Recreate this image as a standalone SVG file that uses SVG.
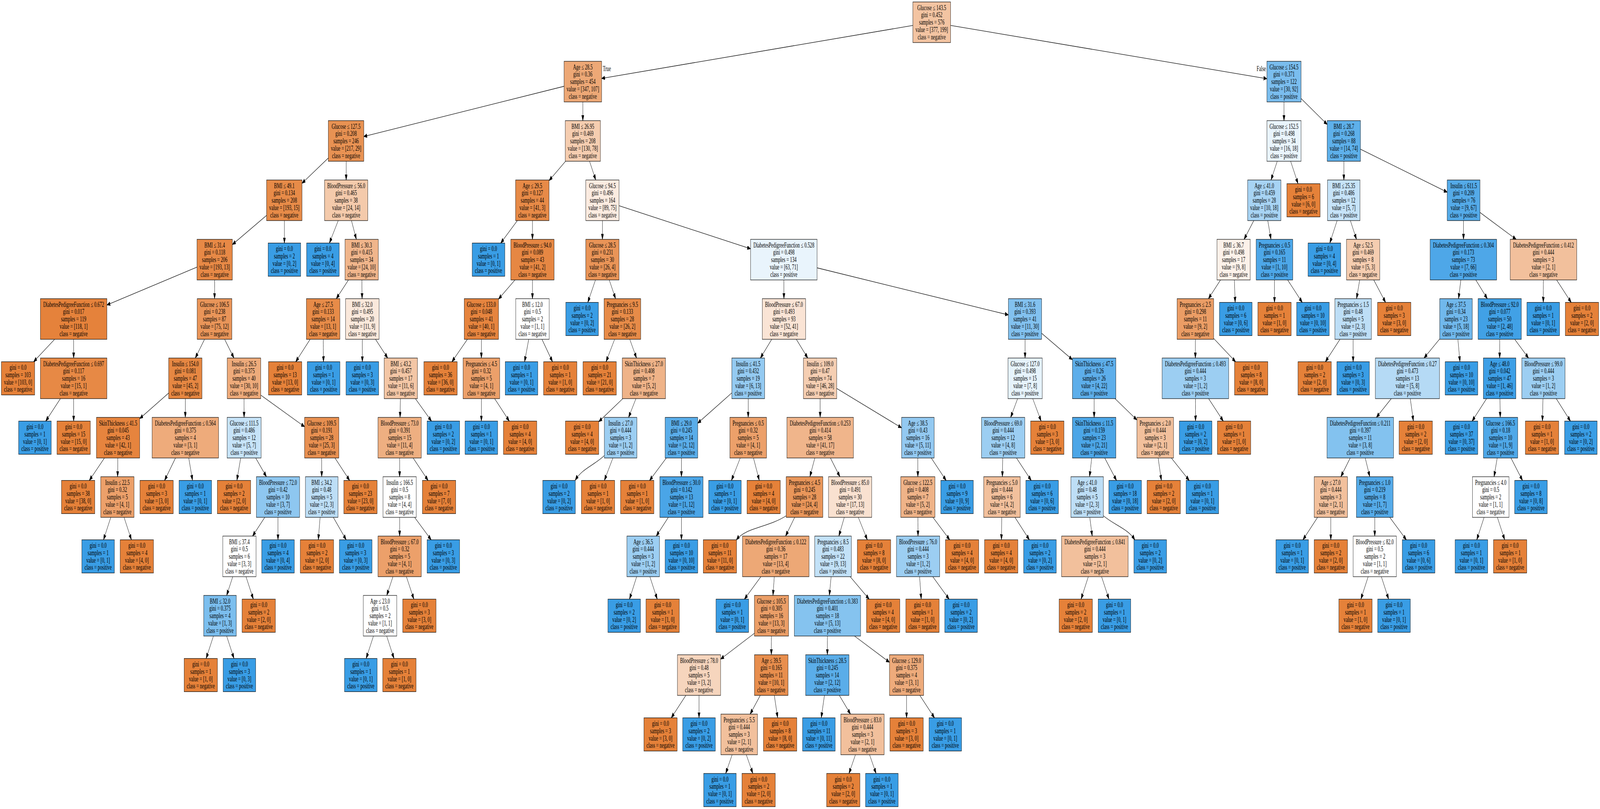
<svg xmlns="http://www.w3.org/2000/svg" width="6734" height="2072" viewBox="0 0 6734 2072" preserveAspectRatio="none">
<style>
svg{width:100vw;height:100vh;display:block}
text{font-family:"Liberation Serif","Times New Roman",serif;font-size:18.5px;text-anchor:middle;fill:#000}
rect{stroke:#000;stroke-width:1.2}
rect.bg{fill:#fff;stroke:none}
.neg{fill:#e58139}.pos{fill:#399de5}
.e path{fill:none;stroke:#000;stroke-width:1.3;marker-end:url(#ah)}
.e text.t{text-anchor:start}.e text.f{text-anchor:end}
</style>
<defs><marker id="ah" markerUnits="userSpaceOnUse" markerWidth="15" markerHeight="11" refX="14" refY="5" orient="auto"><path d="M0,0 L14,5 L0,10 z" fill="#000" stroke="#000" stroke-width="1"/></marker></defs>
<rect class="bg" x="0" y="0" width="6734" height="2072"/>
<g id="connectors" class="e">
<path d="M3842,65.2 L2532,200.8"/><path d="M4001,65.2 L5332,201.6"/>
<text class="t" x="2537" y="182">True</text><text class="f" x="5328" y="182">False</text>
<path d="M2374,221 L1531,349.6"/><path d="M2453,261 L2453,309"/><path d="M5404,261 L5404,309"/><path d="M5476,252.4 L5586,318.8"/>
<path d="M1382,404.6 L1271,469.5"/><path d="M1457,413 L1457,461"/><path d="M2380.3,413 L2311,462.5"/><path d="M2481.2,413 L2507.3,461"/><path d="M5375.6,413 L5349.4,461"/><path d="M5432,413 L5463.1,470.5"/><path d="M5656,413 L5656,461"/><path d="M5726,382.1 L6091,492.2"/>
<path d="M1122,551.7 L978,626.4"/><path d="M1197,565 L1197,622.5"/><path d="M1423.5,565 L1386.4,622.5"/><path d="M1479.2,565 L1499.8,613"/><path d="M2177.4,565 L2107.6,622.5"/><path d="M2241,565 L2241,613"/><path d="M2535.5,565 L2535.5,613"/><path d="M2605.5,526.9 L3159,637.1"/><path d="M5276.9,565 L5236.1,613"/><path d="M5335.7,565 L5349.3,613"/><path d="M5627.6,565 L5596.8,622.5"/><path d="M5683.4,565 L5709.1,613"/><path d="M6159.5,565 L6159.5,613"/><path d="M6229,544.2 L6381.1,613"/>
<path d="M829,684.1 L450,781.1"/><path d="M903.3,717 L903.1,765"/><path d="M1466.6,717 L1415.4,765"/><path d="M1523,717 L1524,765"/><path d="M2167.4,717 L2098,766.1"/><path d="M2241,717 L2241,765"/><path d="M2506.2,717 L2473.9,774.5"/><path d="M2564.2,717 L2590.8,765"/><path d="M3299.2,717 L3299.3,765"/><path d="M3439,686 L4244,806.5"/><path d="M5136.9,717 L5086.1,765"/><path d="M5195.1,717 L5198.5,774.5"/><path d="M5364,717 L5364,774.5"/><path d="M5419.4,717 L5480.7,774.5"/><path d="M5722.6,717 L5709.4,765"/><path d="M5781.8,717 L5831.4,774.5"/><path d="M6148.4,717 L6138.6,765"/><path d="M6211.3,717 L6259.7,765"/><path d="M6495.7,717 L6495.3,774.5"/><path d="M6551.4,717 L6612.7,774.5"/>
<path d="M230,869 L141.4,926.5"/><path d="M310,869 L310,917"/><path d="M860.9,869 L822.1,917"/><path d="M945.4,869 L984.6,917"/><path d="M1305.3,869 L1244.7,926.5"/><path d="M1360.7,869 L1361.4,926.5"/><path d="M1525,869 L1525,926.5"/><path d="M1580.4,869 L1631.6,917"/><path d="M1967.2,869 L1902.1,926.5"/><path d="M2026,869 L2026,917"/><path d="M2225.3,869 L2207.9,926.5"/><path d="M2281,869 L2325.3,926.5"/><path d="M2586.8,869 L2550.7,926.5"/><path d="M2650.5,869 L2679,917"/><path d="M3248,869 L3200.5,917"/><path d="M3351.5,869 L3399.5,917"/><path d="M4314.2,869 L4314.3,917"/><path d="M4384,853.6 L4513.5,921.2"/><path d="M5031,869 L5031,917"/><path d="M5108,866.8 L5200.3,926.5"/><path d="M5639.6,869 L5578.3,926.5"/><path d="M5695,869 L5695,926.5"/><path d="M6059.5,867.9 L5993.5,917"/><path d="M6135.9,869 L6144.6,926.5"/><path d="M6311.8,869 L6311.7,917"/><path d="M6375,869 L6433.1,917"/>
<path d="M254.2,1021 L192.6,1078.5"/><path d="M310,1021 L310,1078.5"/><path d="M710,1006.6 L588,1072.1"/><path d="M780,1021 L780,1069"/><path d="M1027.2,1021 L1027.3,1069"/><path d="M1097.6,1012 L1282,1093"/><path d="M1685.3,1021 L1683.7,1069"/><path d="M1748.2,1021 L1815.9,1078.5"/><path d="M2026,1021 L2026,1078.5"/><path d="M2081.8,1021 L2143.4,1078.5"/><path d="M2621.1,1021 L2520,1080.1"/><path d="M2676.5,1021 L2645.5,1069"/><path d="M3080,1006.3 L2936.5,1083.9"/><path d="M3149,1021 L3149,1069"/><path d="M3451.7,1021 L3451.8,1069"/><path d="M3521.5,994.9 L3794.5,1095.7"/><path d="M4282.9,1021 L4253.6,1069"/><path d="M4346.5,1021 L4381.9,1078.5"/><path d="M4605,1021 L4605,1069"/><path d="M4692.9,1021 L4785,1075.5"/><path d="M5031.3,1021 L5031.7,1078.5"/><path d="M5086.8,1021 L5148.4,1078.5"/><path d="M5855.6,1021 L5792.9,1069"/><path d="M5935.5,1021 L5948.7,1078.5"/><path d="M6256.6,1021 L6195.9,1078.5"/><path d="M6312.9,1021 L6314.1,1069"/><path d="M6494,1021 L6491.7,1078.5"/><path d="M6549.9,1021 L6609.5,1078.5"/>
<path d="M439.5,1173 L376,1230.5"/><path d="M496,1173 L495,1221"/><path d="M738.6,1173 L692.8,1230.5"/><path d="M794.4,1173 L810.3,1230.5"/><path d="M1013,1173 L996.9,1230.5"/><path d="M1076.2,1173 L1121.3,1221"/><path d="M1354,1173 L1354,1221"/><path d="M1409.8,1173 L1471.4,1230.5"/><path d="M1682,1173 L1682,1221"/><path d="M1738.8,1173 L1801.6,1230.5"/><path d="M2543,1167 C2500,1192 2450,1200 2421,1230"/><path d="M2579.5,1173 L2543.6,1230.5"/><path d="M2804.4,1173 L2734,1230.5"/><path d="M2868,1173 L2868,1221"/><path d="M3115.5,1173 L3078.4,1230.5"/><path d="M3171.2,1173 L3195.8,1230.5"/><path d="M3429.4,1173 L3408.6,1221"/><path d="M3495.1,1173 L3534.9,1221"/><path d="M3863,1173 L3863,1221"/><path d="M3919.4,1173 L3981.9,1230.5"/><path d="M4220.3,1173 L4218.7,1221"/><path d="M4278.1,1173 L4340.1,1230.5"/><path d="M4594.9,1173 L4585.6,1221"/><path d="M4649.6,1173 L4699,1230.5"/><path d="M4874.3,1173 L4887.9,1230.5"/><path d="M4929.9,1173 L5005,1230.5"/><path d="M5682.6,1173 L5643.4,1221"/><path d="M5745.9,1173 L5765.1,1221"/><path d="M6301.3,1173 L6288.2,1221"/><path d="M6359.3,1173 L6407.7,1230.5"/>
<path d="M466.3,1325 L435.6,1382.5"/><path d="M522.1,1325 L553.1,1382.5"/><path d="M1114.4,1325 L1063.1,1373"/><path d="M1170,1325 L1170,1382.5"/><path d="M1347.2,1325 L1339.6,1382.5"/><path d="M1402.9,1325 L1457,1382.5"/><path d="M1682,1325 L1682,1373"/><path d="M1744.9,1325 L1814.6,1382.5"/><path d="M2812.9,1325 L2762.1,1373"/><path d="M2868,1325 L2868,1382.5"/><path d="M3309,1321 C3230,1352 3140,1350 3099,1383"/><path d="M3344.6,1325 L3306.4,1373"/><path d="M3553.4,1325 L3530.6,1373"/><path d="M3612.4,1325 L3650.4,1382.5"/><path d="M3863.3,1325 L3863.7,1373"/><path d="M3926.6,1325 L3997,1382.5"/><path d="M4216,1325 L4214.8,1382.5"/><path d="M4271.7,1325 L4332.3,1382.5"/><path d="M4586.6,1325 L4596.9,1373"/><path d="M4644,1321 C4690,1345 4750,1355 4776,1383"/><path d="M5545.4,1325 L5483.9,1382.5"/><path d="M5601,1325 L5601,1382.5"/><path d="M5786,1325 L5786,1373"/><path d="M5849.1,1325 L5918.9,1382.5"/><path d="M6246.2,1325 L6215.4,1382.5"/><path d="M6302,1325 L6332.9,1382.5"/>
<path d="M979.6,1477 L953.9,1525"/><path d="M1035.4,1477 L1066.2,1534.5"/><path d="M1653.8,1477 L1627.7,1525"/><path d="M1710.4,1477 L1741.8,1534.5"/><path d="M2679.6,1477 L2649.4,1534.5"/><path d="M2735.1,1477 L2766.1,1534.5"/><path d="M3202.4,1477 L3133.2,1534.5"/><path d="M3258.8,1477 L3253.2,1525"/><path d="M3498,1477 L3490.5,1525"/><path d="M3578.2,1477 L3658,1534.5"/><path d="M3870.3,1477 L3877.3,1534.5"/><path d="M3925.9,1477 L3994.4,1534.5"/><path d="M4580.5,1477 L4550,1534.5"/><path d="M4636.2,1477 L4667.4,1534.5"/><path d="M5758.3,1477 L5727.6,1534.5"/><path d="M5813.7,1477 L5844.4,1534.5"/>
<path d="M898.3,1629 L867.6,1686.5"/><path d="M953.9,1629 L984.8,1686.5"/><path d="M1571.8,1629 L1541.1,1686.5"/><path d="M1627.4,1629 L1658.2,1686.5"/><path d="M3175,1622 L3033,1688"/><path d="M3246.7,1629 L3246.3,1677"/><path d="M3482.3,1629 L3482.2,1677"/><path d="M3596.4,1629 L3743.6,1696.2"/>
<path d="M2886.6,1781 L2825.3,1838.5"/><path d="M2942,1781 L2942,1838.5"/><path d="M3199.8,1781 L3157.2,1829"/><path d="M3258.8,1781 L3273,1838.5"/><path d="M3469.9,1781 L3456.4,1838.5"/><path d="M3532.6,1781 L3579.4,1829"/><path d="M3815.5,1781 L3815.5,1838.5"/><path d="M3871.3,1781 L3932.9,1838.5"/>
<path d="M3081.4,1933 L3054.2,1981"/><path d="M3140.9,1933 L3168.5,1981"/><path d="M3600.4,1933 L3573.2,1981"/><path d="M3659.7,1933 L3687.2,1981"/>
</g>
<g id="nodes">
<g id="n0" transform="translate(3921.5,57)"><rect x="-79.5" y="-52" width="159" height="104" fill="#f3c4a2"/><text y="-31.5"><tspan x="0">Glucose ≤ 143.5</tspan><tspan x="0" dy="18.8">gini = 0.452</tspan><tspan x="0" dy="18.8">samples = 576</tspan><tspan x="0" dy="18.8">value = [377, 199]</tspan><tspan x="0" dy="18.8">class = negative</tspan></text></g>
<g id="n1" transform="translate(2453,209)"><rect x="-79" y="-52" width="158" height="104" fill="#eda876"/><text y="-31.5"><tspan x="0">Age ≤ 28.5</tspan><tspan x="0" dy="18.8">gini = 0.36</tspan><tspan x="0" dy="18.8">samples = 454</tspan><tspan x="0" dy="18.8">value = [347, 107]</tspan><tspan x="0" dy="18.8">class = negative</tspan></text></g>
<g id="n2" transform="translate(5404,209)"><rect x="-72" y="-52" width="144" height="104" fill="#7abdee"/><text y="-31.5"><tspan x="0">Glucose ≤ 154.5</tspan><tspan x="0" dy="18.8">gini = 0.371</tspan><tspan x="0" dy="18.8">samples = 122</tspan><tspan x="0" dy="18.8">value = [30, 92]</tspan><tspan x="0" dy="18.8">class = positive</tspan></text></g>
<g id="n3" transform="translate(1456.5,361)"><rect x="-74.5" y="-52" width="149" height="104" fill="#e89253"/><text y="-31.5"><tspan x="0">Glucose ≤ 127.5</tspan><tspan x="0" dy="18.8">gini = 0.208</tspan><tspan x="0" dy="18.8">samples = 246</tspan><tspan x="0" dy="18.8">value = [217, 29]</tspan><tspan x="0" dy="18.8">class = negative</tspan></text></g>
<g id="n4" transform="translate(2453,361)"><rect x="-74" y="-52" width="148" height="104" fill="#f5cdb0"/><text y="-31.5"><tspan x="0">BMI ≤ 26.95</tspan><tspan x="0" dy="18.8">gini = 0.469</tspan><tspan x="0" dy="18.8">samples = 208</tspan><tspan x="0" dy="18.8">value = [130, 78]</tspan><tspan x="0" dy="18.8">class = negative</tspan></text></g>
<g id="n5" transform="translate(5404,361)"><rect x="-72" y="-52" width="144" height="104" fill="#e9f4fc"/><text y="-31.5"><tspan x="0">Glucose ≤ 152.5</tspan><tspan x="0" dy="18.8">gini = 0.498</tspan><tspan x="0" dy="18.8">samples = 34</tspan><tspan x="0" dy="18.8">value = [16, 18]</tspan><tspan x="0" dy="18.8">class = positive</tspan></text></g>
<g id="n6" transform="translate(5656,361)"><rect x="-70" y="-52" width="140" height="104" fill="#5eb0ea"/><text y="-31.5"><tspan x="0">BMI ≤ 28.7</tspan><tspan x="0" dy="18.8">gini = 0.268</tspan><tspan x="0" dy="18.8">samples = 88</tspan><tspan x="0" dy="18.8">value = [14, 74]</tspan><tspan x="0" dy="18.8">class = positive</tspan></text></g>
<g id="n7" transform="translate(1196.5,513)"><rect x="-74.5" y="-52" width="149" height="104" fill="#e78b48"/><text y="-31.5"><tspan x="0">BMI ≤ 49.1</tspan><tspan x="0" dy="18.8">gini = 0.134</tspan><tspan x="0" dy="18.8">samples = 208</tspan><tspan x="0" dy="18.8">value = [193, 15]</tspan><tspan x="0" dy="18.8">class = negative</tspan></text></g>
<g id="n8" transform="translate(1457,513)"><rect x="-91" y="-52" width="182" height="104" fill="#f4caab"/><text y="-31.5"><tspan x="0">BloodPressure ≤ 56.0</tspan><tspan x="0" dy="18.8">gini = 0.465</tspan><tspan x="0" dy="18.8">samples = 38</tspan><tspan x="0" dy="18.8">value = [24, 14]</tspan><tspan x="0" dy="18.8">class = negative</tspan></text></g>
<g id="n9" transform="translate(2240.5,513)"><rect x="-70.5" y="-52" width="141" height="104" fill="#e78a47"/><text y="-31.5"><tspan x="0">Age ≤ 29.5</tspan><tspan x="0" dy="18.8">gini = 0.127</tspan><tspan x="0" dy="18.8">samples = 44</tspan><tspan x="0" dy="18.8">value = [41, 3]</tspan><tspan x="0" dy="18.8">class = negative</tspan></text></g>
<g id="n10" transform="translate(2535.5,513)"><rect x="-70" y="-52" width="140" height="104" fill="#fbebe0"/><text y="-31.5"><tspan x="0">Glucose ≤ 94.5</tspan><tspan x="0" dy="18.8">gini = 0.496</tspan><tspan x="0" dy="18.8">samples = 164</tspan><tspan x="0" dy="18.8">value = [89, 75]</tspan><tspan x="0" dy="18.8">class = negative</tspan></text></g>
<g id="n11" transform="translate(5321,513)"><rect x="-70" y="-52" width="140" height="104" fill="#a7d3f3"/><text y="-31.5"><tspan x="0">Age ≤ 41.0</tspan><tspan x="0" dy="18.8">gini = 0.459</tspan><tspan x="0" dy="18.8">samples = 28</tspan><tspan x="0" dy="18.8">value = [10, 18]</tspan><tspan x="0" dy="18.8">class = positive</tspan></text></g>
<g id="n12" transform="translate(5486,513)"><rect class="neg" x="-70" y="-42.5" width="140" height="85"/><text y="-22"><tspan x="0">gini = 0.0</tspan><tspan x="0" dy="18.8">samples = 6</tspan><tspan x="0" dy="18.8">value = [6, 0]</tspan><tspan x="0" dy="18.8">class = negative</tspan></text></g>
<g id="n13" transform="translate(5655.5,513)"><rect x="-68.5" y="-52" width="137" height="104" fill="#c6e3f8"/><text y="-31.5"><tspan x="0">BMI ≤ 25.35</tspan><tspan x="0" dy="18.8">gini = 0.486</tspan><tspan x="0" dy="18.8">samples = 12</tspan><tspan x="0" dy="18.8">value = [5, 7]</tspan><tspan x="0" dy="18.8">class = positive</tspan></text></g>
<g id="n14" transform="translate(6160,513)"><rect x="-69" y="-52" width="138" height="104" fill="#54aae8"/><text y="-31.5"><tspan x="0">Insulin ≤ 611.5</tspan><tspan x="0" dy="18.8">gini = 0.209</tspan><tspan x="0" dy="18.8">samples = 76</tspan><tspan x="0" dy="18.8">value = [9, 67]</tspan><tspan x="0" dy="18.8">class = positive</tspan></text></g>
<g id="n15" transform="translate(903.5,665)"><rect x="-74.5" y="-52" width="149" height="104" fill="#e78946"/><text y="-31.5"><tspan x="0">BMI ≤ 31.4</tspan><tspan x="0" dy="18.8">gini = 0.118</tspan><tspan x="0" dy="18.8">samples = 206</tspan><tspan x="0" dy="18.8">value = [193, 13]</tspan><tspan x="0" dy="18.8">class = negative</tspan></text></g>
<g id="n16" transform="translate(1197,665)"><rect class="pos" x="-68.5" y="-42.5" width="137" height="85"/><text y="-22"><tspan x="0">gini = 0.0</tspan><tspan x="0" dy="18.8">samples = 2</tspan><tspan x="0" dy="18.8">value = [0, 2]</tspan><tspan x="0" dy="18.8">class = positive</tspan></text></g>
<g id="n17" transform="translate(1359,665)"><rect class="pos" x="-68.5" y="-42.5" width="137" height="85"/><text y="-22"><tspan x="0">gini = 0.0</tspan><tspan x="0" dy="18.8">samples = 4</tspan><tspan x="0" dy="18.8">value = [0, 4]</tspan><tspan x="0" dy="18.8">class = positive</tspan></text></g>
<g id="n18" transform="translate(1522,665)"><rect x="-70" y="-52" width="140" height="104" fill="#f0b58b"/><text y="-31.5"><tspan x="0">BMI ≤ 30.3</tspan><tspan x="0" dy="18.8">gini = 0.415</tspan><tspan x="0" dy="18.8">samples = 34</tspan><tspan x="0" dy="18.8">value = [24, 10]</tspan><tspan x="0" dy="18.8">class = negative</tspan></text></g>
<g id="n19" transform="translate(2056,665)"><rect class="pos" x="-68.5" y="-42.5" width="137" height="85"/><text y="-22"><tspan x="0">gini = 0.0</tspan><tspan x="0" dy="18.8">samples = 1</tspan><tspan x="0" dy="18.8">value = [0, 1]</tspan><tspan x="0" dy="18.8">class = positive</tspan></text></g>
<g id="n20" transform="translate(2241,665)"><rect x="-91" y="-52" width="182" height="104" fill="#e68743"/><text y="-31.5"><tspan x="0">BloodPressure ≤ 94.0</tspan><tspan x="0" dy="18.8">gini = 0.089</tspan><tspan x="0" dy="18.8">samples = 43</tspan><tspan x="0" dy="18.8">value = [41, 2]</tspan><tspan x="0" dy="18.8">class = negative</tspan></text></g>
<g id="n21" transform="translate(2535.5,665)"><rect x="-70" y="-52" width="140" height="104" fill="#e99457"/><text y="-31.5"><tspan x="0">Glucose ≤ 28.5</tspan><tspan x="0" dy="18.8">gini = 0.231</tspan><tspan x="0" dy="18.8">samples = 30</tspan><tspan x="0" dy="18.8">value = [26, 4]</tspan><tspan x="0" dy="18.8">class = negative</tspan></text></g>
<g id="n22" transform="translate(3299,665)"><rect x="-140" y="-52" width="280" height="104" fill="#e9f4fc"/><text y="-31.5"><tspan x="0">DiabetesPedigreeFunction ≤ 0.528</tspan><tspan x="0" dy="18.8">gini = 0.498</tspan><tspan x="0" dy="18.8">samples = 134</tspan><tspan x="0" dy="18.8">value = [63, 71]</tspan><tspan x="0" dy="18.8">class = positive</tspan></text></g>
<g id="n23" transform="translate(5192,665)"><rect x="-70" y="-52" width="140" height="104" fill="#fcf1e9"/><text y="-31.5"><tspan x="0">BMI ≤ 36.7</tspan><tspan x="0" dy="18.8">gini = 0.498</tspan><tspan x="0" dy="18.8">samples = 17</tspan><tspan x="0" dy="18.8">value = [9, 8]</tspan><tspan x="0" dy="18.8">class = negative</tspan></text></g>
<g id="n24" transform="translate(5364,665)"><rect x="-77" y="-52" width="154" height="104" fill="#4da7e8"/><text y="-31.5"><tspan x="0">Pregnancies ≤ 0.5</tspan><tspan x="0" dy="18.8">gini = 0.165</tspan><tspan x="0" dy="18.8">samples = 11</tspan><tspan x="0" dy="18.8">value = [1, 10]</tspan><tspan x="0" dy="18.8">class = positive</tspan></text></g>
<g id="n25" transform="translate(5574,665)"><rect class="pos" x="-68.5" y="-42.5" width="137" height="85"/><text y="-22"><tspan x="0">gini = 0.0</tspan><tspan x="0" dy="18.8">samples = 4</tspan><tspan x="0" dy="18.8">value = [0, 4]</tspan><tspan x="0" dy="18.8">class = positive</tspan></text></g>
<g id="n26" transform="translate(5737,665)"><rect x="-70" y="-52" width="140" height="104" fill="#f5cdb0"/><text y="-31.5"><tspan x="0">Age ≤ 52.5</tspan><tspan x="0" dy="18.8">gini = 0.469</tspan><tspan x="0" dy="18.8">samples = 8</tspan><tspan x="0" dy="18.8">value = [5, 3]</tspan><tspan x="0" dy="18.8">class = negative</tspan></text></g>
<g id="n27" transform="translate(6159,665)"><rect x="-140" y="-52" width="280" height="104" fill="#4ea7e8"/><text y="-31.5"><tspan x="0">DiabetesPedigreeFunction ≤ 0.304</tspan><tspan x="0" dy="18.8">gini = 0.173</tspan><tspan x="0" dy="18.8">samples = 73</tspan><tspan x="0" dy="18.8">value = [7, 66]</tspan><tspan x="0" dy="18.8">class = positive</tspan></text></g>
<g id="n28" transform="translate(6496,665)"><rect x="-140" y="-52" width="280" height="104" fill="#f2c09c"/><text y="-31.5"><tspan x="0">DiabetesPedigreeFunction ≤ 0.412</tspan><tspan x="0" dy="18.8">gini = 0.444</tspan><tspan x="0" dy="18.8">samples = 3</tspan><tspan x="0" dy="18.8">value = [2, 1]</tspan><tspan x="0" dy="18.8">class = negative</tspan></text></g>
<g id="n29" transform="translate(310,817)"><rect x="-140" y="-52" width="280" height="104" fill="#e5823b"/><text y="-31.5"><tspan x="0">DiabetesPedigreeFunction ≤ 0.672</tspan><tspan x="0" dy="18.8">gini = 0.017</tspan><tspan x="0" dy="18.8">samples = 119</tspan><tspan x="0" dy="18.8">value = [118, 1]</tspan><tspan x="0" dy="18.8">class = negative</tspan></text></g>
<g id="n30" transform="translate(903,817)"><rect x="-73" y="-52" width="146" height="104" fill="#e99559"/><text y="-31.5"><tspan x="0">Glucose ≤ 106.5</tspan><tspan x="0" dy="18.8">gini = 0.238</tspan><tspan x="0" dy="18.8">samples = 87</tspan><tspan x="0" dy="18.8">value = [75, 12]</tspan><tspan x="0" dy="18.8">class = negative</tspan></text></g>
<g id="n31" transform="translate(1360,817)"><rect x="-70.5" y="-52" width="141" height="104" fill="#e78b48"/><text y="-31.5"><tspan x="0">Age ≤ 27.5</tspan><tspan x="0" dy="18.8">gini = 0.133</tspan><tspan x="0" dy="18.8">samples = 14</tspan><tspan x="0" dy="18.8">value = [13, 1]</tspan><tspan x="0" dy="18.8">class = negative</tspan></text></g>
<g id="n32" transform="translate(1525,817)"><rect x="-70.5" y="-52" width="141" height="104" fill="#fae8db"/><text y="-31.5"><tspan x="0">BMI ≤ 32.0</tspan><tspan x="0" dy="18.8">gini = 0.495</tspan><tspan x="0" dy="18.8">samples = 20</tspan><tspan x="0" dy="18.8">value = [11, 9]</tspan><tspan x="0" dy="18.8">class = negative</tspan></text></g>
<g id="n33" transform="translate(2026,817)"><rect x="-72" y="-52" width="144" height="104" fill="#e6843e"/><text y="-31.5"><tspan x="0">Glucose ≤ 133.0</tspan><tspan x="0" dy="18.8">gini = 0.048</tspan><tspan x="0" dy="18.8">samples = 41</tspan><tspan x="0" dy="18.8">value = [40, 1]</tspan><tspan x="0" dy="18.8">class = negative</tspan></text></g>
<g id="n34" transform="translate(2241,817)"><rect x="-70.5" y="-52" width="141" height="104" fill="#ffffff"/><text y="-31.5"><tspan x="0">BMI ≤ 12.0</tspan><tspan x="0" dy="18.8">gini = 0.5</tspan><tspan x="0" dy="18.8">samples = 2</tspan><tspan x="0" dy="18.8">value = [1, 1]</tspan><tspan x="0" dy="18.8">class = negative</tspan></text></g>
<g id="n35" transform="translate(2450,817)"><rect class="pos" x="-68.5" y="-42.5" width="137" height="85"/><text y="-22"><tspan x="0">gini = 0.0</tspan><tspan x="0" dy="18.8">samples = 2</tspan><tspan x="0" dy="18.8">value = [0, 2]</tspan><tspan x="0" dy="18.8">class = positive</tspan></text></g>
<g id="n36" transform="translate(2619.5,817)"><rect x="-77" y="-52" width="154" height="104" fill="#e78b48"/><text y="-31.5"><tspan x="0">Pregnancies ≤ 9.5</tspan><tspan x="0" dy="18.8">gini = 0.133</tspan><tspan x="0" dy="18.8">samples = 28</tspan><tspan x="0" dy="18.8">value = [26, 2]</tspan><tspan x="0" dy="18.8">class = negative</tspan></text></g>
<g id="n37" transform="translate(3299.5,817)"><rect x="-91" y="-52" width="182" height="104" fill="#fae4d5"/><text y="-31.5"><tspan x="0">BloodPressure ≤ 67.0</tspan><tspan x="0" dy="18.8">gini = 0.493</tspan><tspan x="0" dy="18.8">samples = 93</tspan><tspan x="0" dy="18.8">value = [52, 41]</tspan><tspan x="0" dy="18.8">class = negative</tspan></text></g>
<g id="n38" transform="translate(4314,817)"><rect x="-70" y="-52" width="140" height="104" fill="#82c1ef"/><text y="-31.5"><tspan x="0">BMI ≤ 31.6</tspan><tspan x="0" dy="18.8">gini = 0.393</tspan><tspan x="0" dy="18.8">samples = 41</tspan><tspan x="0" dy="18.8">value = [11, 30]</tspan><tspan x="0" dy="18.8">class = positive</tspan></text></g>
<g id="n39" transform="translate(5031,817)"><rect x="-77" y="-52" width="154" height="104" fill="#eb9d65"/><text y="-31.5"><tspan x="0">Pregnancies ≤ 2.5</tspan><tspan x="0" dy="18.8">gini = 0.298</tspan><tspan x="0" dy="18.8">samples = 11</tspan><tspan x="0" dy="18.8">value = [9, 2]</tspan><tspan x="0" dy="18.8">class = negative</tspan></text></g>
<g id="n40" transform="translate(5201,817)"><rect class="pos" x="-68.5" y="-42.5" width="137" height="85"/><text y="-22"><tspan x="0">gini = 0.0</tspan><tspan x="0" dy="18.8">samples = 6</tspan><tspan x="0" dy="18.8">value = [0, 6]</tspan><tspan x="0" dy="18.8">class = positive</tspan></text></g>
<g id="n41" transform="translate(5364,817)"><rect class="neg" x="-70" y="-42.5" width="140" height="85"/><text y="-22"><tspan x="0">gini = 0.0</tspan><tspan x="0" dy="18.8">samples = 1</tspan><tspan x="0" dy="18.8">value = [1, 0]</tspan><tspan x="0" dy="18.8">class = negative</tspan></text></g>
<g id="n42" transform="translate(5526,817)"><rect class="pos" x="-68.5" y="-42.5" width="137" height="85"/><text y="-22"><tspan x="0">gini = 0.0</tspan><tspan x="0" dy="18.8">samples = 10</tspan><tspan x="0" dy="18.8">value = [0, 10]</tspan><tspan x="0" dy="18.8">class = positive</tspan></text></g>
<g id="n43" transform="translate(5695,817)"><rect x="-77" y="-52" width="154" height="104" fill="#bddef6"/><text y="-31.5"><tspan x="0">Pregnancies ≤ 1.5</tspan><tspan x="0" dy="18.8">gini = 0.48</tspan><tspan x="0" dy="18.8">samples = 5</tspan><tspan x="0" dy="18.8">value = [2, 3]</tspan><tspan x="0" dy="18.8">class = positive</tspan></text></g>
<g id="n44" transform="translate(5868,817)"><rect class="neg" x="-70" y="-42.5" width="140" height="85"/><text y="-22"><tspan x="0">gini = 0.0</tspan><tspan x="0" dy="18.8">samples = 3</tspan><tspan x="0" dy="18.8">value = [3, 0]</tspan><tspan x="0" dy="18.8">class = negative</tspan></text></g>
<g id="n45" transform="translate(6128,817)"><rect x="-68.5" y="-52" width="137" height="104" fill="#70b8ec"/><text y="-31.5"><tspan x="0">Age ≤ 37.5</tspan><tspan x="0" dy="18.8">gini = 0.34</tspan><tspan x="0" dy="18.8">samples = 23</tspan><tspan x="0" dy="18.8">value = [5, 18]</tspan><tspan x="0" dy="18.8">class = positive</tspan></text></g>
<g id="n46" transform="translate(6312,817)"><rect x="-91" y="-52" width="182" height="104" fill="#41a1e6"/><text y="-31.5"><tspan x="0">BloodPressure ≤ 92.0</tspan><tspan x="0" dy="18.8">gini = 0.077</tspan><tspan x="0" dy="18.8">samples = 50</tspan><tspan x="0" dy="18.8">value = [2, 48]</tspan><tspan x="0" dy="18.8">class = positive</tspan></text></g>
<g id="n47" transform="translate(6495,817)"><rect class="pos" x="-68.5" y="-42.5" width="137" height="85"/><text y="-22"><tspan x="0">gini = 0.0</tspan><tspan x="0" dy="18.8">samples = 1</tspan><tspan x="0" dy="18.8">value = [0, 1]</tspan><tspan x="0" dy="18.8">class = positive</tspan></text></g>
<g id="n48" transform="translate(6658,817)"><rect class="neg" x="-70" y="-42.5" width="140" height="85"/><text y="-22"><tspan x="0">gini = 0.0</tspan><tspan x="0" dy="18.8">samples = 2</tspan><tspan x="0" dy="18.8">value = [2, 0]</tspan><tspan x="0" dy="18.8">class = negative</tspan></text></g>
<g id="n49" transform="translate(76,969)"><rect class="neg" x="-70" y="-42.5" width="140" height="85"/><text y="-22"><tspan x="0">gini = 0.0</tspan><tspan x="0" dy="18.8">samples = 103</tspan><tspan x="0" dy="18.8">value = [103, 0]</tspan><tspan x="0" dy="18.8">class = negative</tspan></text></g>
<g id="n50" transform="translate(310,969)"><rect x="-140" y="-52" width="280" height="104" fill="#e78945"/><text y="-31.5"><tspan x="0">DiabetesPedigreeFunction ≤ 0.697</tspan><tspan x="0" dy="18.8">gini = 0.117</tspan><tspan x="0" dy="18.8">samples = 16</tspan><tspan x="0" dy="18.8">value = [15, 1]</tspan><tspan x="0" dy="18.8">class = negative</tspan></text></g>
<g id="n51" transform="translate(780,969)"><rect x="-70" y="-52" width="140" height="104" fill="#e68742"/><text y="-31.5"><tspan x="0">Insulin ≤ 154.0</tspan><tspan x="0" dy="18.8">gini = 0.081</tspan><tspan x="0" dy="18.8">samples = 47</tspan><tspan x="0" dy="18.8">value = [45, 2]</tspan><tspan x="0" dy="18.8">class = negative</tspan></text></g>
<g id="n52" transform="translate(1027,969)"><rect x="-70.5" y="-52" width="141" height="104" fill="#eeab7b"/><text y="-31.5"><tspan x="0">Insulin ≤ 26.5</tspan><tspan x="0" dy="18.8">gini = 0.375</tspan><tspan x="0" dy="18.8">samples = 40</tspan><tspan x="0" dy="18.8">value = [30, 10]</tspan><tspan x="0" dy="18.8">class = negative</tspan></text></g>
<g id="n53" transform="translate(1200,969)"><rect class="neg" x="-70" y="-42.5" width="140" height="85"/><text y="-22"><tspan x="0">gini = 0.0</tspan><tspan x="0" dy="18.8">samples = 13</tspan><tspan x="0" dy="18.8">value = [13, 0]</tspan><tspan x="0" dy="18.8">class = negative</tspan></text></g>
<g id="n54" transform="translate(1362,969)"><rect class="pos" x="-68.5" y="-42.5" width="137" height="85"/><text y="-22"><tspan x="0">gini = 0.0</tspan><tspan x="0" dy="18.8">samples = 1</tspan><tspan x="0" dy="18.8">value = [0, 1]</tspan><tspan x="0" dy="18.8">class = positive</tspan></text></g>
<g id="n55" transform="translate(1525,969)"><rect class="pos" x="-68.5" y="-42.5" width="137" height="85"/><text y="-22"><tspan x="0">gini = 0.0</tspan><tspan x="0" dy="18.8">samples = 3</tspan><tspan x="0" dy="18.8">value = [0, 3]</tspan><tspan x="0" dy="18.8">class = positive</tspan></text></g>
<g id="n56" transform="translate(1687,969)"><rect x="-70" y="-52" width="140" height="104" fill="#f3c6a5"/><text y="-31.5"><tspan x="0">BMI ≤ 43.2</tspan><tspan x="0" dy="18.8">gini = 0.457</tspan><tspan x="0" dy="18.8">samples = 17</tspan><tspan x="0" dy="18.8">value = [11, 6]</tspan><tspan x="0" dy="18.8">class = negative</tspan></text></g>
<g id="n57" transform="translate(1854,969)"><rect class="neg" x="-70" y="-42.5" width="140" height="85"/><text y="-22"><tspan x="0">gini = 0.0</tspan><tspan x="0" dy="18.8">samples = 36</tspan><tspan x="0" dy="18.8">value = [36, 0]</tspan><tspan x="0" dy="18.8">class = negative</tspan></text></g>
<g id="n58" transform="translate(2026,969)"><rect x="-77" y="-52" width="154" height="104" fill="#eca06a"/><text y="-31.5"><tspan x="0">Pregnancies ≤ 4.5</tspan><tspan x="0" dy="18.8">gini = 0.32</tspan><tspan x="0" dy="18.8">samples = 5</tspan><tspan x="0" dy="18.8">value = [4, 1]</tspan><tspan x="0" dy="18.8">class = negative</tspan></text></g>
<g id="n59" transform="translate(2195,969)"><rect class="pos" x="-68.5" y="-42.5" width="137" height="85"/><text y="-22"><tspan x="0">gini = 0.0</tspan><tspan x="0" dy="18.8">samples = 1</tspan><tspan x="0" dy="18.8">value = [0, 1]</tspan><tspan x="0" dy="18.8">class = positive</tspan></text></g>
<g id="n60" transform="translate(2358,969)"><rect class="neg" x="-70" y="-42.5" width="140" height="85"/><text y="-22"><tspan x="0">gini = 0.0</tspan><tspan x="0" dy="18.8">samples = 1</tspan><tspan x="0" dy="18.8">value = [1, 0]</tspan><tspan x="0" dy="18.8">class = negative</tspan></text></g>
<g id="n61" transform="translate(2524,969)"><rect class="neg" x="-70" y="-42.5" width="140" height="85"/><text y="-22"><tspan x="0">gini = 0.0</tspan><tspan x="0" dy="18.8">samples = 21</tspan><tspan x="0" dy="18.8">value = [21, 0]</tspan><tspan x="0" dy="18.8">class = negative</tspan></text></g>
<g id="n62" transform="translate(2710,969)"><rect x="-91" y="-52" width="182" height="104" fill="#efb388"/><text y="-31.5"><tspan x="0">SkinThickness ≤ 27.0</tspan><tspan x="0" dy="18.8">gini = 0.408</tspan><tspan x="0" dy="18.8">samples = 7</tspan><tspan x="0" dy="18.8">value = [5, 2]</tspan><tspan x="0" dy="18.8">class = negative</tspan></text></g>
<g id="n63" transform="translate(3149,969)"><rect x="-69" y="-52" width="138" height="104" fill="#94caf1"/><text y="-31.5"><tspan x="0">Insulin ≤ 41.5</tspan><tspan x="0" dy="18.8">gini = 0.432</tspan><tspan x="0" dy="18.8">samples = 19</tspan><tspan x="0" dy="18.8">value = [6, 13]</tspan><tspan x="0" dy="18.8">class = positive</tspan></text></g>
<g id="n64" transform="translate(3451.5,969)"><rect x="-70" y="-52" width="140" height="104" fill="#f5ceb2"/><text y="-31.5"><tspan x="0">Insulin ≤ 109.0</tspan><tspan x="0" dy="18.8">gini = 0.47</tspan><tspan x="0" dy="18.8">samples = 74</tspan><tspan x="0" dy="18.8">value = [46, 28]</tspan><tspan x="0" dy="18.8">class = negative</tspan></text></g>
<g id="n65" transform="translate(4314.5,969)"><rect x="-72" y="-52" width="144" height="104" fill="#e6f3fc"/><text y="-31.5"><tspan x="0">Glucose ≤ 127.0</tspan><tspan x="0" dy="18.8">gini = 0.498</tspan><tspan x="0" dy="18.8">samples = 15</tspan><tspan x="0" dy="18.8">value = [7, 8]</tspan><tspan x="0" dy="18.8">class = positive</tspan></text></g>
<g id="n66" transform="translate(4605,969)"><rect x="-91.5" y="-52" width="183" height="104" fill="#5daeea"/><text y="-31.5"><tspan x="0">SkinThickness ≤ 47.5</tspan><tspan x="0" dy="18.8">gini = 0.26</tspan><tspan x="0" dy="18.8">samples = 26</tspan><tspan x="0" dy="18.8">value = [4, 22]</tspan><tspan x="0" dy="18.8">class = positive</tspan></text></g>
<g id="n67" transform="translate(5031,969)"><rect x="-140" y="-52" width="280" height="104" fill="#9ccef2"/><text y="-31.5"><tspan x="0">DiabetesPedigreeFunction ≤ 0.493</tspan><tspan x="0" dy="18.8">gini = 0.444</tspan><tspan x="0" dy="18.8">samples = 3</tspan><tspan x="0" dy="18.8">value = [1, 2]</tspan><tspan x="0" dy="18.8">class = positive</tspan></text></g>
<g id="n68" transform="translate(5266,969)"><rect class="neg" x="-70" y="-42.5" width="140" height="85"/><text y="-22"><tspan x="0">gini = 0.0</tspan><tspan x="0" dy="18.8">samples = 8</tspan><tspan x="0" dy="18.8">value = [8, 0]</tspan><tspan x="0" dy="18.8">class = negative</tspan></text></g>
<g id="n69" transform="translate(5533,969)"><rect class="neg" x="-70" y="-42.5" width="140" height="85"/><text y="-22"><tspan x="0">gini = 0.0</tspan><tspan x="0" dy="18.8">samples = 2</tspan><tspan x="0" dy="18.8">value = [2, 0]</tspan><tspan x="0" dy="18.8">class = negative</tspan></text></g>
<g id="n70" transform="translate(5695,969)"><rect class="pos" x="-68.5" y="-42.5" width="137" height="85"/><text y="-22"><tspan x="0">gini = 0.0</tspan><tspan x="0" dy="18.8">samples = 3</tspan><tspan x="0" dy="18.8">value = [0, 3]</tspan><tspan x="0" dy="18.8">class = positive</tspan></text></g>
<g id="n71" transform="translate(5923.5,969)"><rect x="-135" y="-52" width="270" height="104" fill="#b5daf5"/><text y="-31.5"><tspan x="0">DiabetesPedigreeFunction ≤ 0.27</tspan><tspan x="0" dy="18.8">gini = 0.473</tspan><tspan x="0" dy="18.8">samples = 13</tspan><tspan x="0" dy="18.8">value = [5, 8]</tspan><tspan x="0" dy="18.8">class = positive</tspan></text></g>
<g id="n72" transform="translate(6151,969)"><rect class="pos" x="-68.5" y="-42.5" width="137" height="85"/><text y="-22"><tspan x="0">gini = 0.0</tspan><tspan x="0" dy="18.8">samples = 10</tspan><tspan x="0" dy="18.8">value = [0, 10]</tspan><tspan x="0" dy="18.8">class = positive</tspan></text></g>
<g id="n73" transform="translate(6311.5,969)"><rect x="-68.5" y="-52" width="137" height="104" fill="#3d9fe6"/><text y="-31.5"><tspan x="0">Age ≤ 48.0</tspan><tspan x="0" dy="18.8">gini = 0.042</tspan><tspan x="0" dy="18.8">samples = 47</tspan><tspan x="0" dy="18.8">value = [1, 46]</tspan><tspan x="0" dy="18.8">class = positive</tspan></text></g>
<g id="n74" transform="translate(6496,969)"><rect x="-91" y="-52" width="182" height="104" fill="#9ccef2"/><text y="-31.5"><tspan x="0">BloodPressure ≤ 99.0</tspan><tspan x="0" dy="18.8">gini = 0.444</tspan><tspan x="0" dy="18.8">samples = 3</tspan><tspan x="0" dy="18.8">value = [1, 2]</tspan><tspan x="0" dy="18.8">class = positive</tspan></text></g>
<g id="n75" transform="translate(147,1121)"><rect class="pos" x="-68.5" y="-42.5" width="137" height="85"/><text y="-22"><tspan x="0">gini = 0.0</tspan><tspan x="0" dy="18.8">samples = 1</tspan><tspan x="0" dy="18.8">value = [0, 1]</tspan><tspan x="0" dy="18.8">class = positive</tspan></text></g>
<g id="n76" transform="translate(310,1121)"><rect class="neg" x="-70" y="-42.5" width="140" height="85"/><text y="-22"><tspan x="0">gini = 0.0</tspan><tspan x="0" dy="18.8">samples = 15</tspan><tspan x="0" dy="18.8">value = [15, 0]</tspan><tspan x="0" dy="18.8">class = negative</tspan></text></g>
<g id="n77" transform="translate(497,1121)"><rect x="-91" y="-52" width="182" height="104" fill="#e6843e"/><text y="-31.5"><tspan x="0">SkinThickness ≤ 41.5</tspan><tspan x="0" dy="18.8">gini = 0.045</tspan><tspan x="0" dy="18.8">samples = 43</tspan><tspan x="0" dy="18.8">value = [42, 1]</tspan><tspan x="0" dy="18.8">class = negative</tspan></text></g>
<g id="n78" transform="translate(780,1121)"><rect x="-140" y="-52" width="280" height="104" fill="#eeab7b"/><text y="-31.5"><tspan x="0">DiabetesPedigreeFunction ≤ 0.564</tspan><tspan x="0" dy="18.8">gini = 0.375</tspan><tspan x="0" dy="18.8">samples = 4</tspan><tspan x="0" dy="18.8">value = [3, 1]</tspan><tspan x="0" dy="18.8">class = negative</tspan></text></g>
<g id="n79" transform="translate(1027.5,1121)"><rect x="-71.5" y="-52" width="143" height="104" fill="#c6e3f8"/><text y="-31.5"><tspan x="0">Glucose ≤ 111.5</tspan><tspan x="0" dy="18.8">gini = 0.486</tspan><tspan x="0" dy="18.8">samples = 12</tspan><tspan x="0" dy="18.8">value = [5, 7]</tspan><tspan x="0" dy="18.8">class = positive</tspan></text></g>
<g id="n80" transform="translate(1354,1121)"><rect x="-72" y="-52" width="144" height="104" fill="#e89051"/><text y="-31.5"><tspan x="0">Glucose ≤ 109.5</tspan><tspan x="0" dy="18.8">gini = 0.191</tspan><tspan x="0" dy="18.8">samples = 28</tspan><tspan x="0" dy="18.8">value = [25, 3]</tspan><tspan x="0" dy="18.8">class = negative</tspan></text></g>
<g id="n81" transform="translate(1682,1121)"><rect x="-91" y="-52" width="182" height="104" fill="#eeaf81"/><text y="-31.5"><tspan x="0">BloodPressure ≤ 73.0</tspan><tspan x="0" dy="18.8">gini = 0.391</tspan><tspan x="0" dy="18.8">samples = 15</tspan><tspan x="0" dy="18.8">value = [11, 4]</tspan><tspan x="0" dy="18.8">class = negative</tspan></text></g>
<g id="n82" transform="translate(1866,1121)"><rect class="pos" x="-68.5" y="-42.5" width="137" height="85"/><text y="-22"><tspan x="0">gini = 0.0</tspan><tspan x="0" dy="18.8">samples = 2</tspan><tspan x="0" dy="18.8">value = [0, 2]</tspan><tspan x="0" dy="18.8">class = positive</tspan></text></g>
<g id="n83" transform="translate(2026,1121)"><rect class="pos" x="-68.5" y="-42.5" width="137" height="85"/><text y="-22"><tspan x="0">gini = 0.0</tspan><tspan x="0" dy="18.8">samples = 1</tspan><tspan x="0" dy="18.8">value = [0, 1]</tspan><tspan x="0" dy="18.8">class = positive</tspan></text></g>
<g id="n84" transform="translate(2189,1121)"><rect class="neg" x="-70" y="-42.5" width="140" height="85"/><text y="-22"><tspan x="0">gini = 0.0</tspan><tspan x="0" dy="18.8">samples = 4</tspan><tspan x="0" dy="18.8">value = [4, 0]</tspan><tspan x="0" dy="18.8">class = negative</tspan></text></g>
<g id="n85" transform="translate(2450,1121)"><rect class="neg" x="-70" y="-42.5" width="140" height="85"/><text y="-22"><tspan x="0">gini = 0.0</tspan><tspan x="0" dy="18.8">samples = 4</tspan><tspan x="0" dy="18.8">value = [4, 0]</tspan><tspan x="0" dy="18.8">class = negative</tspan></text></g>
<g id="n86" transform="translate(2612,1121)"><rect x="-68.5" y="-52" width="137" height="104" fill="#9ccef2"/><text y="-31.5"><tspan x="0">Insulin ≤ 27.0</tspan><tspan x="0" dy="18.8">gini = 0.444</tspan><tspan x="0" dy="18.8">samples = 3</tspan><tspan x="0" dy="18.8">value = [1, 2]</tspan><tspan x="0" dy="18.8">class = positive</tspan></text></g>
<g id="n87" transform="translate(2868,1121)"><rect x="-68.5" y="-52" width="137" height="104" fill="#5aade9"/><text y="-31.5"><tspan x="0">BMI ≤ 29.0</tspan><tspan x="0" dy="18.8">gini = 0.245</tspan><tspan x="0" dy="18.8">samples = 14</tspan><tspan x="0" dy="18.8">value = [2, 12]</tspan><tspan x="0" dy="18.8">class = positive</tspan></text></g>
<g id="n88" transform="translate(3149,1121)"><rect x="-77" y="-52" width="154" height="104" fill="#eca06a"/><text y="-31.5"><tspan x="0">Pregnancies ≤ 0.5</tspan><tspan x="0" dy="18.8">gini = 0.32</tspan><tspan x="0" dy="18.8">samples = 5</tspan><tspan x="0" dy="18.8">value = [4, 1]</tspan><tspan x="0" dy="18.8">class = negative</tspan></text></g>
<g id="n89" transform="translate(3452,1121)"><rect x="-140" y="-52" width="280" height="104" fill="#f0b58b"/><text y="-31.5"><tspan x="0">DiabetesPedigreeFunction ≤ 0.253</tspan><tspan x="0" dy="18.8">gini = 0.414</tspan><tspan x="0" dy="18.8">samples = 58</tspan><tspan x="0" dy="18.8">value = [41, 17]</tspan><tspan x="0" dy="18.8">class = negative</tspan></text></g>
<g id="n90" transform="translate(3863,1121)"><rect x="-68.5" y="-52" width="137" height="104" fill="#93c9f1"/><text y="-31.5"><tspan x="0">Age ≤ 38.5</tspan><tspan x="0" dy="18.8">gini = 0.43</tspan><tspan x="0" dy="18.8">samples = 16</tspan><tspan x="0" dy="18.8">value = [5, 11]</tspan><tspan x="0" dy="18.8">class = positive</tspan></text></g>
<g id="n91" transform="translate(4222,1121)"><rect x="-91" y="-52" width="182" height="104" fill="#9ccef2"/><text y="-31.5"><tspan x="0">BloodPressure ≤ 69.0</tspan><tspan x="0" dy="18.8">gini = 0.444</tspan><tspan x="0" dy="18.8">samples = 12</tspan><tspan x="0" dy="18.8">value = [4, 8]</tspan><tspan x="0" dy="18.8">class = positive</tspan></text></g>
<g id="n92" transform="translate(4408,1121)"><rect class="neg" x="-70" y="-42.5" width="140" height="85"/><text y="-22"><tspan x="0">gini = 0.0</tspan><tspan x="0" dy="18.8">samples = 3</tspan><tspan x="0" dy="18.8">value = [3, 0]</tspan><tspan x="0" dy="18.8">class = negative</tspan></text></g>
<g id="n93" transform="translate(4605,1121)"><rect x="-91.5" y="-52" width="183" height="104" fill="#4ca6e7"/><text y="-31.5"><tspan x="0">SkinThickness ≤ 11.5</tspan><tspan x="0" dy="18.8">gini = 0.159</tspan><tspan x="0" dy="18.8">samples = 23</tspan><tspan x="0" dy="18.8">value = [2, 21]</tspan><tspan x="0" dy="18.8">class = positive</tspan></text></g>
<g id="n94" transform="translate(4862,1121)"><rect x="-77" y="-52" width="154" height="104" fill="#f2c09c"/><text y="-31.5"><tspan x="0">Pregnancies ≤ 2.0</tspan><tspan x="0" dy="18.8">gini = 0.444</tspan><tspan x="0" dy="18.8">samples = 3</tspan><tspan x="0" dy="18.8">value = [2, 1]</tspan><tspan x="0" dy="18.8">class = negative</tspan></text></g>
<g id="n95" transform="translate(5032,1121)"><rect class="pos" x="-68.5" y="-42.5" width="137" height="85"/><text y="-22"><tspan x="0">gini = 0.0</tspan><tspan x="0" dy="18.8">samples = 2</tspan><tspan x="0" dy="18.8">value = [0, 2]</tspan><tspan x="0" dy="18.8">class = positive</tspan></text></g>
<g id="n96" transform="translate(5194,1121)"><rect class="neg" x="-70" y="-42.5" width="140" height="85"/><text y="-22"><tspan x="0">gini = 0.0</tspan><tspan x="0" dy="18.8">samples = 1</tspan><tspan x="0" dy="18.8">value = [1, 0]</tspan><tspan x="0" dy="18.8">class = negative</tspan></text></g>
<g id="n97" transform="translate(5725,1121)"><rect x="-140" y="-52" width="280" height="104" fill="#83c2ef"/><text y="-31.5"><tspan x="0">DiabetesPedigreeFunction ≤ 0.211</tspan><tspan x="0" dy="18.8">gini = 0.397</tspan><tspan x="0" dy="18.8">samples = 11</tspan><tspan x="0" dy="18.8">value = [3, 8]</tspan><tspan x="0" dy="18.8">class = positive</tspan></text></g>
<g id="n98" transform="translate(5958.6,1121)"><rect class="neg" x="-70" y="-42.5" width="140" height="85"/><text y="-22"><tspan x="0">gini = 0.0</tspan><tspan x="0" dy="18.8">samples = 2</tspan><tspan x="0" dy="18.8">value = [2, 0]</tspan><tspan x="0" dy="18.8">class = negative</tspan></text></g>
<g id="n99" transform="translate(6151,1121)"><rect class="pos" x="-68.5" y="-42.5" width="137" height="85"/><text y="-22"><tspan x="0">gini = 0.0</tspan><tspan x="0" dy="18.8">samples = 37</tspan><tspan x="0" dy="18.8">value = [0, 37]</tspan><tspan x="0" dy="18.8">class = positive</tspan></text></g>
<g id="n100" transform="translate(6315.5,1121)"><rect x="-72" y="-52" width="144" height="104" fill="#4fa8e8"/><text y="-31.5"><tspan x="0">Glucose ≤ 166.5</tspan><tspan x="0" dy="18.8">gini = 0.18</tspan><tspan x="0" dy="18.8">samples = 10</tspan><tspan x="0" dy="18.8">value = [1, 9]</tspan><tspan x="0" dy="18.8">class = positive</tspan></text></g>
<g id="n101" transform="translate(6490,1121)"><rect class="neg" x="-70" y="-42.5" width="140" height="85"/><text y="-22"><tspan x="0">gini = 0.0</tspan><tspan x="0" dy="18.8">samples = 1</tspan><tspan x="0" dy="18.8">value = [1, 0]</tspan><tspan x="0" dy="18.8">class = negative</tspan></text></g>
<g id="n102" transform="translate(6653.5,1121)"><rect class="pos" x="-68.5" y="-42.5" width="137" height="85"/><text y="-22"><tspan x="0">gini = 0.0</tspan><tspan x="0" dy="18.8">samples = 2</tspan><tspan x="0" dy="18.8">value = [0, 2]</tspan><tspan x="0" dy="18.8">class = positive</tspan></text></g>
<g id="n103" transform="translate(329,1273)"><rect class="neg" x="-70" y="-42.5" width="140" height="85"/><text y="-22"><tspan x="0">gini = 0.0</tspan><tspan x="0" dy="18.8">samples = 38</tspan><tspan x="0" dy="18.8">value = [38, 0]</tspan><tspan x="0" dy="18.8">class = negative</tspan></text></g>
<g id="n104" transform="translate(494,1273)"><rect x="-70" y="-52" width="140" height="104" fill="#eca06a"/><text y="-31.5"><tspan x="0">Insulin ≤ 22.5</tspan><tspan x="0" dy="18.8">gini = 0.32</tspan><tspan x="0" dy="18.8">samples = 5</tspan><tspan x="0" dy="18.8">value = [4, 1]</tspan><tspan x="0" dy="18.8">class = negative</tspan></text></g>
<g id="n105" transform="translate(659,1273)"><rect class="neg" x="-70" y="-42.5" width="140" height="85"/><text y="-22"><tspan x="0">gini = 0.0</tspan><tspan x="0" dy="18.8">samples = 3</tspan><tspan x="0" dy="18.8">value = [3, 0]</tspan><tspan x="0" dy="18.8">class = negative</tspan></text></g>
<g id="n106" transform="translate(822,1273)"><rect class="pos" x="-68.5" y="-42.5" width="137" height="85"/><text y="-22"><tspan x="0">gini = 0.0</tspan><tspan x="0" dy="18.8">samples = 1</tspan><tspan x="0" dy="18.8">value = [0, 1]</tspan><tspan x="0" dy="18.8">class = positive</tspan></text></g>
<g id="n107" transform="translate(985,1273)"><rect class="neg" x="-70" y="-42.5" width="140" height="85"/><text y="-22"><tspan x="0">gini = 0.0</tspan><tspan x="0" dy="18.8">samples = 2</tspan><tspan x="0" dy="18.8">value = [2, 0]</tspan><tspan x="0" dy="18.8">class = negative</tspan></text></g>
<g id="n108" transform="translate(1170,1273)"><rect x="-91" y="-52" width="182" height="104" fill="#8ec7f0"/><text y="-31.5"><tspan x="0">BloodPressure ≤ 72.0</tspan><tspan x="0" dy="18.8">gini = 0.42</tspan><tspan x="0" dy="18.8">samples = 10</tspan><tspan x="0" dy="18.8">value = [3, 7]</tspan><tspan x="0" dy="18.8">class = positive</tspan></text></g>
<g id="n109" transform="translate(1354,1273)"><rect x="-68.5" y="-52" width="137" height="104" fill="#bddef6"/><text y="-31.5"><tspan x="0">BMI ≤ 34.2</tspan><tspan x="0" dy="18.8">gini = 0.48</tspan><tspan x="0" dy="18.8">samples = 5</tspan><tspan x="0" dy="18.8">value = [2, 3]</tspan><tspan x="0" dy="18.8">class = positive</tspan></text></g>
<g id="n110" transform="translate(1517,1273)"><rect class="neg" x="-70" y="-42.5" width="140" height="85"/><text y="-22"><tspan x="0">gini = 0.0</tspan><tspan x="0" dy="18.8">samples = 23</tspan><tspan x="0" dy="18.8">value = [23, 0]</tspan><tspan x="0" dy="18.8">class = negative</tspan></text></g>
<g id="n111" transform="translate(1682,1273)"><rect x="-70" y="-52" width="140" height="104" fill="#ffffff"/><text y="-31.5"><tspan x="0">Insulin ≤ 166.5</tspan><tspan x="0" dy="18.8">gini = 0.5</tspan><tspan x="0" dy="18.8">samples = 8</tspan><tspan x="0" dy="18.8">value = [4, 4]</tspan><tspan x="0" dy="18.8">class = negative</tspan></text></g>
<g id="n112" transform="translate(1848,1273)"><rect class="neg" x="-70" y="-42.5" width="140" height="85"/><text y="-22"><tspan x="0">gini = 0.0</tspan><tspan x="0" dy="18.8">samples = 7</tspan><tspan x="0" dy="18.8">value = [7, 0]</tspan><tspan x="0" dy="18.8">class = negative</tspan></text></g>
<g id="n113" transform="translate(2353,1273)"><rect class="pos" x="-68.5" y="-42.5" width="137" height="85"/><text y="-22"><tspan x="0">gini = 0.0</tspan><tspan x="0" dy="18.8">samples = 2</tspan><tspan x="0" dy="18.8">value = [0, 2]</tspan><tspan x="0" dy="18.8">class = positive</tspan></text></g>
<g id="n114" transform="translate(2517,1273)"><rect class="neg" x="-70" y="-42.5" width="140" height="85"/><text y="-22"><tspan x="0">gini = 0.0</tspan><tspan x="0" dy="18.8">samples = 1</tspan><tspan x="0" dy="18.8">value = [1, 0]</tspan><tspan x="0" dy="18.8">class = negative</tspan></text></g>
<g id="n115" transform="translate(2682,1273)"><rect class="neg" x="-70" y="-42.5" width="140" height="85"/><text y="-22"><tspan x="0">gini = 0.0</tspan><tspan x="0" dy="18.8">samples = 1</tspan><tspan x="0" dy="18.8">value = [1, 0]</tspan><tspan x="0" dy="18.8">class = negative</tspan></text></g>
<g id="n116" transform="translate(2868,1273)"><rect x="-91" y="-52" width="182" height="104" fill="#4aa5e7"/><text y="-31.5"><tspan x="0">BloodPressure ≤ 30.0</tspan><tspan x="0" dy="18.8">gini = 0.142</tspan><tspan x="0" dy="18.8">samples = 13</tspan><tspan x="0" dy="18.8">value = [1, 12]</tspan><tspan x="0" dy="18.8">class = positive</tspan></text></g>
<g id="n117" transform="translate(3051,1273)"><rect class="pos" x="-68.5" y="-42.5" width="137" height="85"/><text y="-22"><tspan x="0">gini = 0.0</tspan><tspan x="0" dy="18.8">samples = 1</tspan><tspan x="0" dy="18.8">value = [0, 1]</tspan><tspan x="0" dy="18.8">class = positive</tspan></text></g>
<g id="n118" transform="translate(3214,1273)"><rect class="neg" x="-70" y="-42.5" width="140" height="85"/><text y="-22"><tspan x="0">gini = 0.0</tspan><tspan x="0" dy="18.8">samples = 4</tspan><tspan x="0" dy="18.8">value = [4, 0]</tspan><tspan x="0" dy="18.8">class = negative</tspan></text></g>
<g id="n119" transform="translate(3386,1273)"><rect x="-77" y="-52" width="154" height="104" fill="#e9965a"/><text y="-31.5"><tspan x="0">Pregnancies ≤ 4.5</tspan><tspan x="0" dy="18.8">gini = 0.245</tspan><tspan x="0" dy="18.8">samples = 28</tspan><tspan x="0" dy="18.8">value = [24, 4]</tspan><tspan x="0" dy="18.8">class = negative</tspan></text></g>
<g id="n120" transform="translate(3578,1273)"><rect x="-91" y="-52" width="182" height="104" fill="#f9e1d0"/><text y="-31.5"><tspan x="0">BloodPressure ≤ 85.0</tspan><tspan x="0" dy="18.8">gini = 0.491</tspan><tspan x="0" dy="18.8">samples = 30</tspan><tspan x="0" dy="18.8">value = [17, 13]</tspan><tspan x="0" dy="18.8">class = negative</tspan></text></g>
<g id="n121" transform="translate(3863,1273)"><rect x="-72" y="-52" width="144" height="104" fill="#efb388"/><text y="-31.5"><tspan x="0">Glucose ≤ 122.5</tspan><tspan x="0" dy="18.8">gini = 0.408</tspan><tspan x="0" dy="18.8">samples = 7</tspan><tspan x="0" dy="18.8">value = [5, 2]</tspan><tspan x="0" dy="18.8">class = negative</tspan></text></g>
<g id="n122" transform="translate(4028,1273)"><rect class="pos" x="-68.5" y="-42.5" width="137" height="85"/><text y="-22"><tspan x="0">gini = 0.0</tspan><tspan x="0" dy="18.8">samples = 9</tspan><tspan x="0" dy="18.8">value = [0, 9]</tspan><tspan x="0" dy="18.8">class = positive</tspan></text></g>
<g id="n123" transform="translate(4217,1273)"><rect x="-77" y="-52" width="154" height="104" fill="#f2c09c"/><text y="-31.5"><tspan x="0">Pregnancies ≤ 5.0</tspan><tspan x="0" dy="18.8">gini = 0.444</tspan><tspan x="0" dy="18.8">samples = 6</tspan><tspan x="0" dy="18.8">value = [4, 2]</tspan><tspan x="0" dy="18.8">class = negative</tspan></text></g>
<g id="n124" transform="translate(4386,1273)"><rect class="pos" x="-68.5" y="-42.5" width="137" height="85"/><text y="-22"><tspan x="0">gini = 0.0</tspan><tspan x="0" dy="18.8">samples = 6</tspan><tspan x="0" dy="18.8">value = [0, 6]</tspan><tspan x="0" dy="18.8">class = positive</tspan></text></g>
<g id="n125" transform="translate(4575.5,1273)"><rect x="-68.5" y="-52" width="137" height="104" fill="#bddef6"/><text y="-31.5"><tspan x="0">Age ≤ 41.0</tspan><tspan x="0" dy="18.8">gini = 0.48</tspan><tspan x="0" dy="18.8">samples = 5</tspan><tspan x="0" dy="18.8">value = [2, 3]</tspan><tspan x="0" dy="18.8">class = positive</tspan></text></g>
<g id="n126" transform="translate(4735.5,1273)"><rect class="pos" x="-68.5" y="-42.5" width="137" height="85"/><text y="-22"><tspan x="0">gini = 0.0</tspan><tspan x="0" dy="18.8">samples = 18</tspan><tspan x="0" dy="18.8">value = [0, 18]</tspan><tspan x="0" dy="18.8">class = positive</tspan></text></g>
<g id="n127" transform="translate(4898,1273)"><rect class="neg" x="-70" y="-42.5" width="140" height="85"/><text y="-22"><tspan x="0">gini = 0.0</tspan><tspan x="0" dy="18.8">samples = 2</tspan><tspan x="0" dy="18.8">value = [2, 0]</tspan><tspan x="0" dy="18.8">class = negative</tspan></text></g>
<g id="n128" transform="translate(5060.5,1273)"><rect class="pos" x="-68.5" y="-42.5" width="137" height="85"/><text y="-22"><tspan x="0">gini = 0.0</tspan><tspan x="0" dy="18.8">samples = 1</tspan><tspan x="0" dy="18.8">value = [0, 1]</tspan><tspan x="0" dy="18.8">class = positive</tspan></text></g>
<g id="n129" transform="translate(5601,1273)"><rect x="-70" y="-52" width="140" height="104" fill="#f2c09c"/><text y="-31.5"><tspan x="0">Age ≤ 27.0</tspan><tspan x="0" dy="18.8">gini = 0.444</tspan><tspan x="0" dy="18.8">samples = 3</tspan><tspan x="0" dy="18.8">value = [2, 1]</tspan><tspan x="0" dy="18.8">class = negative</tspan></text></g>
<g id="n130" transform="translate(5786,1273)"><rect x="-77" y="-52" width="154" height="104" fill="#55abe9"/><text y="-31.5"><tspan x="0">Pregnancies ≤ 1.0</tspan><tspan x="0" dy="18.8">gini = 0.219</tspan><tspan x="0" dy="18.8">samples = 8</tspan><tspan x="0" dy="18.8">value = [1, 7]</tspan><tspan x="0" dy="18.8">class = positive</tspan></text></g>
<g id="n131" transform="translate(6274,1273)"><rect x="-77" y="-52" width="154" height="104" fill="#ffffff"/><text y="-31.5"><tspan x="0">Pregnancies ≤ 4.0</tspan><tspan x="0" dy="18.8">gini = 0.5</tspan><tspan x="0" dy="18.8">samples = 2</tspan><tspan x="0" dy="18.8">value = [1, 1]</tspan><tspan x="0" dy="18.8">class = negative</tspan></text></g>
<g id="n132" transform="translate(6443.5,1273)"><rect class="pos" x="-68.5" y="-42.5" width="137" height="85"/><text y="-22"><tspan x="0">gini = 0.0</tspan><tspan x="0" dy="18.8">samples = 8</tspan><tspan x="0" dy="18.8">value = [0, 8]</tspan><tspan x="0" dy="18.8">class = positive</tspan></text></g>
<g id="n133" transform="translate(413,1425)"><rect class="pos" x="-68.5" y="-42.5" width="137" height="85"/><text y="-22"><tspan x="0">gini = 0.0</tspan><tspan x="0" dy="18.8">samples = 1</tspan><tspan x="0" dy="18.8">value = [0, 1]</tspan><tspan x="0" dy="18.8">class = positive</tspan></text></g>
<g id="n134" transform="translate(576,1425)"><rect class="neg" x="-70" y="-42.5" width="140" height="85"/><text y="-22"><tspan x="0">gini = 0.0</tspan><tspan x="0" dy="18.8">samples = 4</tspan><tspan x="0" dy="18.8">value = [4, 0]</tspan><tspan x="0" dy="18.8">class = negative</tspan></text></g>
<g id="n135" transform="translate(1007.5,1425)"><rect x="-70" y="-52" width="140" height="104" fill="#ffffff"/><text y="-31.5"><tspan x="0">BMI ≤ 37.4</tspan><tspan x="0" dy="18.8">gini = 0.5</tspan><tspan x="0" dy="18.8">samples = 6</tspan><tspan x="0" dy="18.8">value = [3, 3]</tspan><tspan x="0" dy="18.8">class = negative</tspan></text></g>
<g id="n136" transform="translate(1170,1425)"><rect class="pos" x="-68.5" y="-42.5" width="137" height="85"/><text y="-22"><tspan x="0">gini = 0.0</tspan><tspan x="0" dy="18.8">samples = 4</tspan><tspan x="0" dy="18.8">value = [0, 4]</tspan><tspan x="0" dy="18.8">class = positive</tspan></text></g>
<g id="n137" transform="translate(1334,1425)"><rect class="neg" x="-70" y="-42.5" width="140" height="85"/><text y="-22"><tspan x="0">gini = 0.0</tspan><tspan x="0" dy="18.8">samples = 2</tspan><tspan x="0" dy="18.8">value = [2, 0]</tspan><tspan x="0" dy="18.8">class = negative</tspan></text></g>
<g id="n138" transform="translate(1497,1425)"><rect class="pos" x="-68.5" y="-42.5" width="137" height="85"/><text y="-22"><tspan x="0">gini = 0.0</tspan><tspan x="0" dy="18.8">samples = 3</tspan><tspan x="0" dy="18.8">value = [0, 3]</tspan><tspan x="0" dy="18.8">class = positive</tspan></text></g>
<g id="n139" transform="translate(1682,1425)"><rect x="-91" y="-52" width="182" height="104" fill="#eca06a"/><text y="-31.5"><tspan x="0">BloodPressure ≤ 67.0</tspan><tspan x="0" dy="18.8">gini = 0.32</tspan><tspan x="0" dy="18.8">samples = 5</tspan><tspan x="0" dy="18.8">value = [4, 1]</tspan><tspan x="0" dy="18.8">class = negative</tspan></text></g>
<g id="n140" transform="translate(1866,1425)"><rect class="pos" x="-68.5" y="-42.5" width="137" height="85"/><text y="-22"><tspan x="0">gini = 0.0</tspan><tspan x="0" dy="18.8">samples = 3</tspan><tspan x="0" dy="18.8">value = [0, 3]</tspan><tspan x="0" dy="18.8">class = positive</tspan></text></g>
<g id="n141" transform="translate(2707,1425)"><rect x="-68.5" y="-52" width="137" height="104" fill="#9ccef2"/><text y="-31.5"><tspan x="0">Age ≤ 36.5</tspan><tspan x="0" dy="18.8">gini = 0.444</tspan><tspan x="0" dy="18.8">samples = 3</tspan><tspan x="0" dy="18.8">value = [1, 2]</tspan><tspan x="0" dy="18.8">class = positive</tspan></text></g>
<g id="n142" transform="translate(2868,1425)"><rect class="pos" x="-68.5" y="-42.5" width="137" height="85"/><text y="-22"><tspan x="0">gini = 0.0</tspan><tspan x="0" dy="18.8">samples = 10</tspan><tspan x="0" dy="18.8">value = [0, 10]</tspan><tspan x="0" dy="18.8">class = positive</tspan></text></g>
<g id="n143" transform="translate(3030,1425)"><rect class="neg" x="-70" y="-42.5" width="140" height="85"/><text y="-22"><tspan x="0">gini = 0.0</tspan><tspan x="0" dy="18.8">samples = 11</tspan><tspan x="0" dy="18.8">value = [11, 0]</tspan><tspan x="0" dy="18.8">class = negative</tspan></text></g>
<g id="n144" transform="translate(3265,1425)"><rect x="-140" y="-52" width="280" height="104" fill="#eda876"/><text y="-31.5"><tspan x="0">DiabetesPedigreeFunction ≤ 0.122</tspan><tspan x="0" dy="18.8">gini = 0.36</tspan><tspan x="0" dy="18.8">samples = 17</tspan><tspan x="0" dy="18.8">value = [13, 4]</tspan><tspan x="0" dy="18.8">class = negative</tspan></text></g>
<g id="n145" transform="translate(3506,1425)"><rect x="-77" y="-52" width="154" height="104" fill="#c2e1f7"/><text y="-31.5"><tspan x="0">Pregnancies ≤ 8.5</tspan><tspan x="0" dy="18.8">gini = 0.483</tspan><tspan x="0" dy="18.8">samples = 22</tspan><tspan x="0" dy="18.8">value = [9, 13]</tspan><tspan x="0" dy="18.8">class = positive</tspan></text></g>
<g id="n146" transform="translate(3678.5,1425)"><rect class="neg" x="-70" y="-42.5" width="140" height="85"/><text y="-22"><tspan x="0">gini = 0.0</tspan><tspan x="0" dy="18.8">samples = 8</tspan><tspan x="0" dy="18.8">value = [8, 0]</tspan><tspan x="0" dy="18.8">class = negative</tspan></text></g>
<g id="n147" transform="translate(3864,1425)"><rect x="-91" y="-52" width="182" height="104" fill="#9ccef2"/><text y="-31.5"><tspan x="0">BloodPressure ≤ 76.0</tspan><tspan x="0" dy="18.8">gini = 0.444</tspan><tspan x="0" dy="18.8">samples = 3</tspan><tspan x="0" dy="18.8">value = [1, 2]</tspan><tspan x="0" dy="18.8">class = positive</tspan></text></g>
<g id="n148" transform="translate(4049,1425)"><rect class="neg" x="-70" y="-42.5" width="140" height="85"/><text y="-22"><tspan x="0">gini = 0.0</tspan><tspan x="0" dy="18.8">samples = 4</tspan><tspan x="0" dy="18.8">value = [4, 0]</tspan><tspan x="0" dy="18.8">class = negative</tspan></text></g>
<g id="n149" transform="translate(4214,1425)"><rect class="neg" x="-70" y="-42.5" width="140" height="85"/><text y="-22"><tspan x="0">gini = 0.0</tspan><tspan x="0" dy="18.8">samples = 4</tspan><tspan x="0" dy="18.8">value = [4, 0]</tspan><tspan x="0" dy="18.8">class = negative</tspan></text></g>
<g id="n150" transform="translate(4377,1425)"><rect class="pos" x="-68.5" y="-42.5" width="137" height="85"/><text y="-22"><tspan x="0">gini = 0.0</tspan><tspan x="0" dy="18.8">samples = 2</tspan><tspan x="0" dy="18.8">value = [0, 2]</tspan><tspan x="0" dy="18.8">class = positive</tspan></text></g>
<g id="n151" transform="translate(4608,1425)"><rect x="-140" y="-52" width="280" height="104" fill="#f2c09c"/><text y="-31.5"><tspan x="0">DiabetesPedigreeFunction ≤ 0.841</tspan><tspan x="0" dy="18.8">gini = 0.444</tspan><tspan x="0" dy="18.8">samples = 3</tspan><tspan x="0" dy="18.8">value = [2, 1]</tspan><tspan x="0" dy="18.8">class = negative</tspan></text></g>
<g id="n152" transform="translate(4841,1425)"><rect class="pos" x="-68.5" y="-42.5" width="137" height="85"/><text y="-22"><tspan x="0">gini = 0.0</tspan><tspan x="0" dy="18.8">samples = 2</tspan><tspan x="0" dy="18.8">value = [0, 2]</tspan><tspan x="0" dy="18.8">class = positive</tspan></text></g>
<g id="n153" transform="translate(5438.5,1425)"><rect class="pos" x="-68.5" y="-42.5" width="137" height="85"/><text y="-22"><tspan x="0">gini = 0.0</tspan><tspan x="0" dy="18.8">samples = 1</tspan><tspan x="0" dy="18.8">value = [0, 1]</tspan><tspan x="0" dy="18.8">class = positive</tspan></text></g>
<g id="n154" transform="translate(5601,1425)"><rect class="neg" x="-70" y="-42.5" width="140" height="85"/><text y="-22"><tspan x="0">gini = 0.0</tspan><tspan x="0" dy="18.8">samples = 2</tspan><tspan x="0" dy="18.8">value = [2, 0]</tspan><tspan x="0" dy="18.8">class = negative</tspan></text></g>
<g id="n155" transform="translate(5786,1425)"><rect x="-91" y="-52" width="182" height="104" fill="#ffffff"/><text y="-31.5"><tspan x="0">BloodPressure ≤ 82.0</tspan><tspan x="0" dy="18.8">gini = 0.5</tspan><tspan x="0" dy="18.8">samples = 2</tspan><tspan x="0" dy="18.8">value = [1, 1]</tspan><tspan x="0" dy="18.8">class = negative</tspan></text></g>
<g id="n156" transform="translate(5970.5,1425)"><rect class="pos" x="-68.5" y="-42.5" width="137" height="85"/><text y="-22"><tspan x="0">gini = 0.0</tspan><tspan x="0" dy="18.8">samples = 6</tspan><tspan x="0" dy="18.8">value = [0, 6]</tspan><tspan x="0" dy="18.8">class = positive</tspan></text></g>
<g id="n157" transform="translate(6192.7,1425)"><rect class="pos" x="-68.5" y="-42.5" width="137" height="85"/><text y="-22"><tspan x="0">gini = 0.0</tspan><tspan x="0" dy="18.8">samples = 1</tspan><tspan x="0" dy="18.8">value = [0, 1]</tspan><tspan x="0" dy="18.8">class = positive</tspan></text></g>
<g id="n158" transform="translate(6355.7,1425)"><rect class="neg" x="-70" y="-42.5" width="140" height="85"/><text y="-22"><tspan x="0">gini = 0.0</tspan><tspan x="0" dy="18.8">samples = 1</tspan><tspan x="0" dy="18.8">value = [1, 0]</tspan><tspan x="0" dy="18.8">class = negative</tspan></text></g>
<g id="n159" transform="translate(926,1577)"><rect x="-68.5" y="-52" width="137" height="104" fill="#7bbeee"/><text y="-31.5"><tspan x="0">BMI ≤ 32.0</tspan><tspan x="0" dy="18.8">gini = 0.375</tspan><tspan x="0" dy="18.8">samples = 4</tspan><tspan x="0" dy="18.8">value = [1, 3]</tspan><tspan x="0" dy="18.8">class = positive</tspan></text></g>
<g id="n160" transform="translate(1089,1577)"><rect class="neg" x="-70" y="-42.5" width="140" height="85"/><text y="-22"><tspan x="0">gini = 0.0</tspan><tspan x="0" dy="18.8">samples = 2</tspan><tspan x="0" dy="18.8">value = [2, 0]</tspan><tspan x="0" dy="18.8">class = negative</tspan></text></g>
<g id="n161" transform="translate(1599.5,1577)"><rect x="-70.5" y="-52" width="141" height="104" fill="#ffffff"/><text y="-31.5"><tspan x="0">Age ≤ 23.0</tspan><tspan x="0" dy="18.8">gini = 0.5</tspan><tspan x="0" dy="18.8">samples = 2</tspan><tspan x="0" dy="18.8">value = [1, 1]</tspan><tspan x="0" dy="18.8">class = negative</tspan></text></g>
<g id="n162" transform="translate(1765,1577)"><rect class="neg" x="-70" y="-42.5" width="140" height="85"/><text y="-22"><tspan x="0">gini = 0.0</tspan><tspan x="0" dy="18.8">samples = 3</tspan><tspan x="0" dy="18.8">value = [3, 0]</tspan><tspan x="0" dy="18.8">class = negative</tspan></text></g>
<g id="n163" transform="translate(2627,1577)"><rect class="pos" x="-68.5" y="-42.5" width="137" height="85"/><text y="-22"><tspan x="0">gini = 0.0</tspan><tspan x="0" dy="18.8">samples = 2</tspan><tspan x="0" dy="18.8">value = [0, 2]</tspan><tspan x="0" dy="18.8">class = positive</tspan></text></g>
<g id="n164" transform="translate(2789,1577)"><rect class="neg" x="-70" y="-42.5" width="140" height="85"/><text y="-22"><tspan x="0">gini = 0.0</tspan><tspan x="0" dy="18.8">samples = 1</tspan><tspan x="0" dy="18.8">value = [1, 0]</tspan><tspan x="0" dy="18.8">class = negative</tspan></text></g>
<g id="n165" transform="translate(3082,1577)"><rect class="pos" x="-68.5" y="-42.5" width="137" height="85"/><text y="-22"><tspan x="0">gini = 0.0</tspan><tspan x="0" dy="18.8">samples = 1</tspan><tspan x="0" dy="18.8">value = [0, 1]</tspan><tspan x="0" dy="18.8">class = positive</tspan></text></g>
<g id="n166" transform="translate(3247,1577)"><rect x="-72" y="-52" width="144" height="104" fill="#eb9e67"/><text y="-31.5"><tspan x="0">Glucose ≤ 105.5</tspan><tspan x="0" dy="18.8">gini = 0.305</tspan><tspan x="0" dy="18.8">samples = 16</tspan><tspan x="0" dy="18.8">value = [13, 3]</tspan><tspan x="0" dy="18.8">class = negative</tspan></text></g>
<g id="n167" transform="translate(3482.5,1577)"><rect x="-139.5" y="-52" width="279" height="104" fill="#85c3ef"/><text y="-31.5"><tspan x="0">DiabetesPedigreeFunction ≤ 0.383</tspan><tspan x="0" dy="18.8">gini = 0.401</tspan><tspan x="0" dy="18.8">samples = 18</tspan><tspan x="0" dy="18.8">value = [5, 13]</tspan><tspan x="0" dy="18.8">class = positive</tspan></text></g>
<g id="n168" transform="translate(3717,1577)"><rect class="neg" x="-70" y="-42.5" width="140" height="85"/><text y="-22"><tspan x="0">gini = 0.0</tspan><tspan x="0" dy="18.8">samples = 4</tspan><tspan x="0" dy="18.8">value = [4, 0]</tspan><tspan x="0" dy="18.8">class = negative</tspan></text></g>
<g id="n169" transform="translate(3882.5,1577)"><rect class="neg" x="-70" y="-42.5" width="140" height="85"/><text y="-22"><tspan x="0">gini = 0.0</tspan><tspan x="0" dy="18.8">samples = 1</tspan><tspan x="0" dy="18.8">value = [1, 0]</tspan><tspan x="0" dy="18.8">class = negative</tspan></text></g>
<g id="n170" transform="translate(4045,1577)"><rect class="pos" x="-68.5" y="-42.5" width="137" height="85"/><text y="-22"><tspan x="0">gini = 0.0</tspan><tspan x="0" dy="18.8">samples = 2</tspan><tspan x="0" dy="18.8">value = [0, 2]</tspan><tspan x="0" dy="18.8">class = positive</tspan></text></g>
<g id="n171" transform="translate(4527.5,1577)"><rect class="neg" x="-70" y="-42.5" width="140" height="85"/><text y="-22"><tspan x="0">gini = 0.0</tspan><tspan x="0" dy="18.8">samples = 2</tspan><tspan x="0" dy="18.8">value = [2, 0]</tspan><tspan x="0" dy="18.8">class = negative</tspan></text></g>
<g id="n172" transform="translate(4690.5,1577)"><rect class="pos" x="-68.5" y="-42.5" width="137" height="85"/><text y="-22"><tspan x="0">gini = 0.0</tspan><tspan x="0" dy="18.8">samples = 1</tspan><tspan x="0" dy="18.8">value = [0, 1]</tspan><tspan x="0" dy="18.8">class = positive</tspan></text></g>
<g id="n173" transform="translate(5705,1577)"><rect class="neg" x="-70" y="-42.5" width="140" height="85"/><text y="-22"><tspan x="0">gini = 0.0</tspan><tspan x="0" dy="18.8">samples = 1</tspan><tspan x="0" dy="18.8">value = [1, 0]</tspan><tspan x="0" dy="18.8">class = negative</tspan></text></g>
<g id="n174" transform="translate(5867,1577)"><rect class="pos" x="-68.5" y="-42.5" width="137" height="85"/><text y="-22"><tspan x="0">gini = 0.0</tspan><tspan x="0" dy="18.8">samples = 1</tspan><tspan x="0" dy="18.8">value = [0, 1]</tspan><tspan x="0" dy="18.8">class = positive</tspan></text></g>
<g id="n175" transform="translate(845,1729)"><rect class="neg" x="-70" y="-42.5" width="140" height="85"/><text y="-22"><tspan x="0">gini = 0.0</tspan><tspan x="0" dy="18.8">samples = 1</tspan><tspan x="0" dy="18.8">value = [1, 0]</tspan><tspan x="0" dy="18.8">class = negative</tspan></text></g>
<g id="n176" transform="translate(1007.6,1729)"><rect class="pos" x="-68.5" y="-42.5" width="137" height="85"/><text y="-22"><tspan x="0">gini = 0.0</tspan><tspan x="0" dy="18.8">samples = 3</tspan><tspan x="0" dy="18.8">value = [0, 3]</tspan><tspan x="0" dy="18.8">class = positive</tspan></text></g>
<g id="n177" transform="translate(1518.5,1729)"><rect class="pos" x="-68.5" y="-42.5" width="137" height="85"/><text y="-22"><tspan x="0">gini = 0.0</tspan><tspan x="0" dy="18.8">samples = 1</tspan><tspan x="0" dy="18.8">value = [0, 1]</tspan><tspan x="0" dy="18.8">class = positive</tspan></text></g>
<g id="n178" transform="translate(1681,1729)"><rect class="neg" x="-70" y="-42.5" width="140" height="85"/><text y="-22"><tspan x="0">gini = 0.0</tspan><tspan x="0" dy="18.8">samples = 1</tspan><tspan x="0" dy="18.8">value = [1, 0]</tspan><tspan x="0" dy="18.8">class = negative</tspan></text></g>
<g id="n179" transform="translate(2942,1729)"><rect x="-91" y="-52" width="182" height="104" fill="#f6d5bd"/><text y="-31.5"><tspan x="0">BloodPressure ≤ 78.0</tspan><tspan x="0" dy="18.8">gini = 0.48</tspan><tspan x="0" dy="18.8">samples = 5</tspan><tspan x="0" dy="18.8">value = [3, 2]</tspan><tspan x="0" dy="18.8">class = negative</tspan></text></g>
<g id="n180" transform="translate(3246,1729)"><rect x="-70.5" y="-52" width="141" height="104" fill="#e88e4d"/><text y="-31.5"><tspan x="0">Age ≤ 39.5</tspan><tspan x="0" dy="18.8">gini = 0.165</tspan><tspan x="0" dy="18.8">samples = 11</tspan><tspan x="0" dy="18.8">value = [10, 1]</tspan><tspan x="0" dy="18.8">class = negative</tspan></text></g>
<g id="n181" transform="translate(3482,1729)"><rect x="-91" y="-52" width="182" height="104" fill="#5aade9"/><text y="-31.5"><tspan x="0">SkinThickness ≤ 28.5</tspan><tspan x="0" dy="18.8">gini = 0.245</tspan><tspan x="0" dy="18.8">samples = 14</tspan><tspan x="0" dy="18.8">value = [2, 12]</tspan><tspan x="0" dy="18.8">class = positive</tspan></text></g>
<g id="n182" transform="translate(3815.5,1729)"><rect x="-72" y="-52" width="144" height="104" fill="#eeab7b"/><text y="-31.5"><tspan x="0">Glucose ≤ 129.0</tspan><tspan x="0" dy="18.8">gini = 0.375</tspan><tspan x="0" dy="18.8">samples = 4</tspan><tspan x="0" dy="18.8">value = [3, 1]</tspan><tspan x="0" dy="18.8">class = negative</tspan></text></g>
<g id="n183" transform="translate(2780,1881)"><rect class="neg" x="-70" y="-42.5" width="140" height="85"/><text y="-22"><tspan x="0">gini = 0.0</tspan><tspan x="0" dy="18.8">samples = 3</tspan><tspan x="0" dy="18.8">value = [3, 0]</tspan><tspan x="0" dy="18.8">class = negative</tspan></text></g>
<g id="n184" transform="translate(2942,1881)"><rect class="pos" x="-68.5" y="-42.5" width="137" height="85"/><text y="-22"><tspan x="0">gini = 0.0</tspan><tspan x="0" dy="18.8">samples = 2</tspan><tspan x="0" dy="18.8">value = [0, 2]</tspan><tspan x="0" dy="18.8">class = positive</tspan></text></g>
<g id="n185" transform="translate(3111,1881)"><rect x="-77" y="-52" width="154" height="104" fill="#f2c09c"/><text y="-31.5"><tspan x="0">Pregnancies ≤ 5.5</tspan><tspan x="0" dy="18.8">gini = 0.444</tspan><tspan x="0" dy="18.8">samples = 3</tspan><tspan x="0" dy="18.8">value = [2, 1]</tspan><tspan x="0" dy="18.8">class = negative</tspan></text></g>
<g id="n186" transform="translate(3283.5,1881)"><rect class="neg" x="-70" y="-42.5" width="140" height="85"/><text y="-22"><tspan x="0">gini = 0.0</tspan><tspan x="0" dy="18.8">samples = 8</tspan><tspan x="0" dy="18.8">value = [8, 0]</tspan><tspan x="0" dy="18.8">class = negative</tspan></text></g>
<g id="n187" transform="translate(3446.5,1881)"><rect class="pos" x="-68.5" y="-42.5" width="137" height="85"/><text y="-22"><tspan x="0">gini = 0.0</tspan><tspan x="0" dy="18.8">samples = 11</tspan><tspan x="0" dy="18.8">value = [0, 11]</tspan><tspan x="0" dy="18.8">class = positive</tspan></text></g>
<g id="n188" transform="translate(3630,1881)"><rect x="-91" y="-52" width="182" height="104" fill="#f2c09c"/><text y="-31.5"><tspan x="0">BloodPressure ≤ 83.0</tspan><tspan x="0" dy="18.8">gini = 0.444</tspan><tspan x="0" dy="18.8">samples = 3</tspan><tspan x="0" dy="18.8">value = [2, 1]</tspan><tspan x="0" dy="18.8">class = negative</tspan></text></g>
<g id="n189" transform="translate(3815.5,1881)"><rect class="neg" x="-70" y="-42.5" width="140" height="85"/><text y="-22"><tspan x="0">gini = 0.0</tspan><tspan x="0" dy="18.8">samples = 3</tspan><tspan x="0" dy="18.8">value = [3, 0]</tspan><tspan x="0" dy="18.8">class = negative</tspan></text></g>
<g id="n190" transform="translate(3978.5,1881)"><rect class="pos" x="-68.5" y="-42.5" width="137" height="85"/><text y="-22"><tspan x="0">gini = 0.0</tspan><tspan x="0" dy="18.8">samples = 1</tspan><tspan x="0" dy="18.8">value = [0, 1]</tspan><tspan x="0" dy="18.8">class = positive</tspan></text></g>
<g id="n191" transform="translate(3030,2023.5)"><rect class="pos" x="-68.5" y="-42.5" width="137" height="85"/><text y="-22"><tspan x="0">gini = 0.0</tspan><tspan x="0" dy="18.8">samples = 1</tspan><tspan x="0" dy="18.8">value = [0, 1]</tspan><tspan x="0" dy="18.8">class = positive</tspan></text></g>
<g id="n192" transform="translate(3193,2023.5)"><rect class="neg" x="-70" y="-42.5" width="140" height="85"/><text y="-22"><tspan x="0">gini = 0.0</tspan><tspan x="0" dy="18.8">samples = 2</tspan><tspan x="0" dy="18.8">value = [2, 0]</tspan><tspan x="0" dy="18.8">class = negative</tspan></text></g>
<g id="n193" transform="translate(3549,2023.5)"><rect class="neg" x="-70" y="-42.5" width="140" height="85"/><text y="-22"><tspan x="0">gini = 0.0</tspan><tspan x="0" dy="18.8">samples = 2</tspan><tspan x="0" dy="18.8">value = [2, 0]</tspan><tspan x="0" dy="18.8">class = negative</tspan></text></g>
<g id="n194" transform="translate(3711.5,2023.5)"><rect class="pos" x="-68.5" y="-42.5" width="137" height="85"/><text y="-22"><tspan x="0">gini = 0.0</tspan><tspan x="0" dy="18.8">samples = 1</tspan><tspan x="0" dy="18.8">value = [0, 1]</tspan><tspan x="0" dy="18.8">class = positive</tspan></text></g>
</g>
</svg>
